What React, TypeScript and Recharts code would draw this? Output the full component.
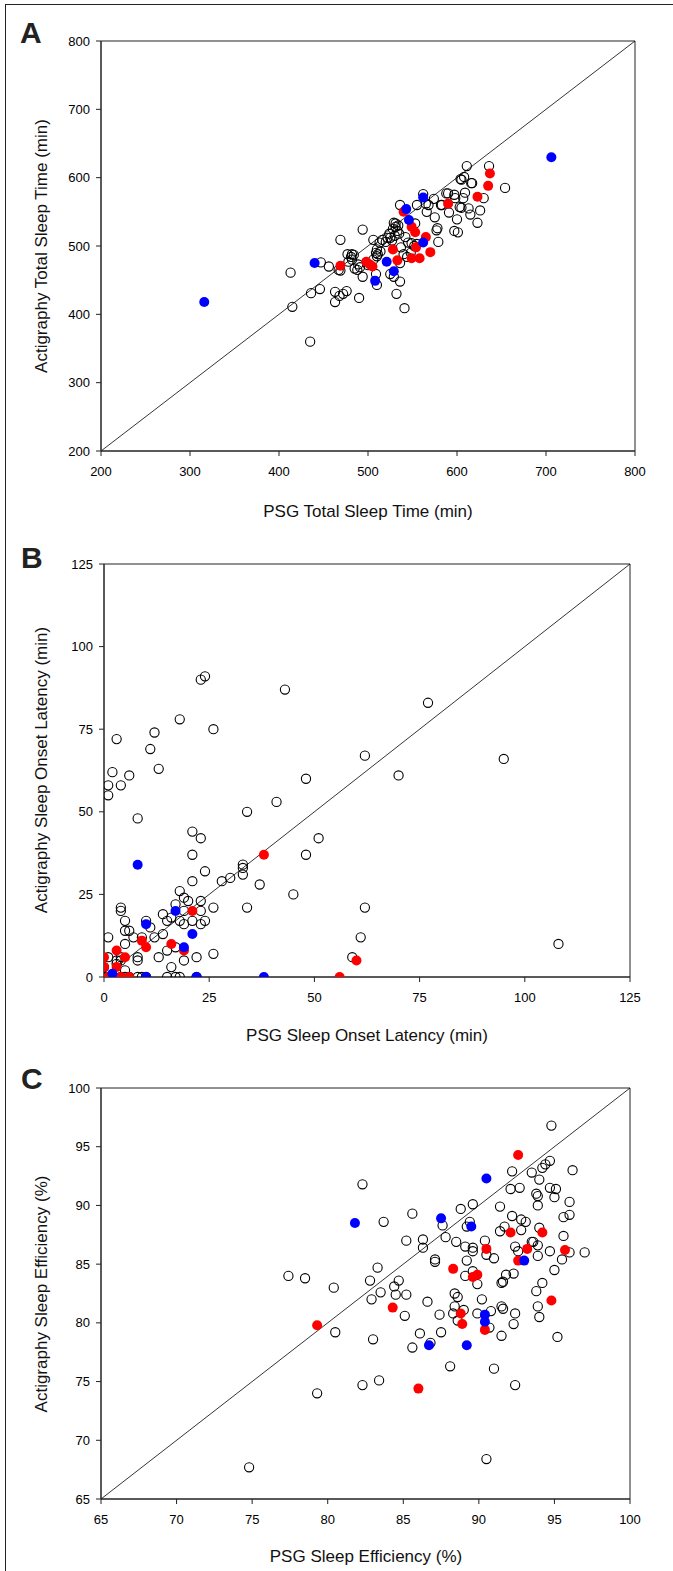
import React from 'react';
import {
  ReferenceArea,
  ReferenceLine,
  Scatter,
  ScatterChart,
  XAxis,
  YAxis,
} from 'recharts';

type Pair = [number, number];

// Panel A: total sleep time (PSG min, actigraphy min)
const tstOpen: Pair[] = [
  [435, 360], [413, 461], [415, 411], [436, 431], [446, 437], [447, 476], [456, 470], [469, 509],
  [469, 464], [463, 433], [463, 418], [468, 427], [472, 430], [476, 434], [477, 488], [482, 488],
  [482, 480], [485, 467], [489, 473], [488, 465], [490, 424], [494, 524], [494, 455], [500, 472],
  [506, 509], [509, 490], [510, 495], [511, 488], [513, 505], [516, 509], [510, 443], [509, 459],
  [522, 512], [524, 518], [529, 534], [531, 528], [534, 530], [535, 518], [536, 560], [537, 498],
  [540, 488], [529, 455], [536, 448], [532, 430], [541, 409], [542, 513], [545, 505], [549, 504],
  [552, 500], [553, 533], [555, 560], [562, 576], [568, 560], [566, 550], [574, 569], [575, 542],
  [578, 526], [579, 506], [582, 560], [590, 577], [591, 549], [597, 522], [601, 520], [600, 539],
  [598, 570], [604, 598], [608, 601], [611, 617], [609, 578], [607, 570], [605, 556], [615, 546],
  [617, 592], [626, 552], [623, 534], [630, 570], [636, 617], [654, 585], [527, 508], [530, 515],
  [533, 522], [528, 525], [531, 533], [525, 512], [520, 506], [506, 480], [510, 485], [514, 492],
  [478, 477], [481, 484], [484, 487], [491, 469], [467, 465], [525, 459], [536, 475], [544, 484],
  [548, 490], [555, 503], [577, 523], [583, 560], [603, 557], [613, 555], [597, 575], [616, 592],
  [605, 597], [565, 562], [588, 577],
];
const tstRed: Pair[] = [
  [469, 471], [498, 477], [502, 473], [505, 470], [528, 495], [533, 479], [540, 550], [549, 528],
  [553, 520], [549, 482], [554, 498], [558, 482], [565, 513], [570, 491], [590, 562], [623, 572],
  [635, 588], [637, 606],
];
const tstBlue: Pair[] = [
  [316, 418], [440, 475], [508, 449], [521, 477], [529, 463], [543, 554], [546, 538], [562, 571],
  [562, 505], [706, 630],
];

// Panel B: sleep onset latency (min)
const solOpen: Pair[] = [
  [23, 90], [24, 91], [43, 87], [77, 83], [18, 78], [26, 75], [12, 74], [3, 72], [11, 69], [62, 67],
  [95, 66], [13, 63], [2, 62], [6, 61], [70, 61], [48, 60], [1, 58], [4, 58], [1, 55], [41, 53],
  [34, 50], [8, 48], [21, 44], [23, 42], [51, 42], [21, 37], [48, 37], [33, 34], [33, 33], [33, 31],
  [24, 32], [28, 29], [30, 30], [21, 29], [37, 28], [45, 25], [34, 21], [62, 21], [18, 26], [19, 24],
  [20, 23], [23, 23], [17, 22], [26, 21], [4, 21], [4, 20], [19, 20], [23, 20], [14, 19], [15, 17],
  [16, 18], [18, 17], [21, 17], [24, 17], [5, 17], [10, 17], [11, 15], [19, 16], [23, 16], [14, 13],
  [12, 12], [1, 12], [6, 14], [5, 14], [7, 12], [9, 12], [61, 12], [108, 10], [5, 10], [17, 9],
  [15, 8], [26, 7], [13, 6], [22, 6], [8, 6], [8, 5], [19, 5], [59, 6], [1, 6], [16, 3], [3, 4],
  [4, 5], [5, 2], [0, 3], [3, 5], [4, 6], [0, 0], [1, 0], [2, 0], [4, 0], [6, 0], [8, 0], [9, 0],
  [15, 0], [17, 0], [18, 0], [22, 0], [10, 0], [5, 0],
];
const solRed: Pair[] = [
  [38, 37], [21, 20], [16, 10], [10, 9], [9, 11], [19, 8], [3, 8], [0, 6], [5, 6], [0, 3], [3, 3],
  [60, 5], [56, 0], [1, 0], [4, 0], [6, 0],
];
const solBlue: Pair[] = [
  [8, 34], [10, 16], [17, 20], [21, 13], [19, 9], [10, 0], [22, 0], [38, 0], [2, 1],
];

// Panel C: sleep efficiency (%)
const seOpen: Pair[] = [
  [94.8, 96.8], [92.2, 92.9], [92.7, 91.5], [92.1, 91.4], [93.5, 92.8], [94.2, 93.2], [94.4, 93.5],
  [94.7, 93.8], [94.0, 92.2], [96.2, 93.0], [94.7, 91.5], [95.1, 91.4], [95.0, 90.7], [93.8, 91.0],
  [93.9, 90.8], [93.9, 90.0], [96.0, 90.3], [96.0, 89.2], [95.6, 89.0], [91.4, 89.9], [89.6, 90.1],
  [88.8, 89.7], [92.2, 89.1], [92.8, 88.8], [93.1, 88.6], [91.7, 88.2], [91.4, 87.8], [92.8, 87.9],
  [94.0, 88.1], [87.6, 88.3], [89.2, 88.2], [89.4, 88.6], [87.8, 87.3], [88.5, 86.9], [89.1, 86.5],
  [89.6, 86.4], [89.6, 86.1], [90.4, 87.0], [93.5, 86.9], [93.6, 86.9], [93.9, 86.6], [93.9, 85.7],
  [92.4, 86.5], [92.6, 86.1], [95.6, 87.4], [94.7, 86.1], [96.0, 86.0], [97.0, 86.0], [95.5, 85.4],
  [95.0, 84.5], [90.5, 85.8], [91.0, 85.5], [89.2, 85.3], [87.1, 85.2], [87.1, 85.4], [86.3, 86.4],
  [86.3, 87.1], [85.2, 87.0], [85.6, 89.3], [83.7, 88.6], [83.3, 84.7], [82.8, 83.6], [84.7, 83.6],
  [84.4, 83.1], [84.5, 82.4], [85.2, 82.4], [83.5, 82.6], [82.9, 82.0], [80.4, 83.0], [78.5, 83.8],
  [77.4, 84.0], [82.3, 91.8], [86.6, 81.8], [85.1, 80.6], [87.4, 80.7], [88.4, 82.5], [88.6, 82.2],
  [88.4, 81.4], [88.3, 80.8], [88.6, 80.2], [89.1, 84.0], [89.6, 84.4], [89.9, 83.3], [89.0, 81.1],
  [90.2, 82.0], [89.9, 80.8], [90.8, 81.0], [90.7, 79.6], [91.5, 78.9], [91.5, 81.4], [91.6, 81.2],
  [91.5, 83.4], [91.6, 83.5], [91.8, 84.1], [92.3, 84.2], [92.4, 80.8], [92.3, 79.9], [93.8, 82.7],
  [94.2, 83.4], [93.9, 81.4], [94.0, 80.5], [95.2, 78.8], [91.0, 76.1], [88.1, 76.3], [92.4, 74.7],
  [90.5, 68.4], [74.8, 67.7], [79.3, 74.0], [82.3, 74.7], [83.4, 75.1], [83.0, 78.6], [85.6, 77.9],
  [86.1, 79.1], [86.8, 78.3], [87.5, 79.2], [80.5, 79.2],
];
const seRed: Pair[] = [
  [92.6, 94.3], [92.1, 87.7], [94.2, 87.7], [90.5, 86.3], [93.2, 86.3], [95.7, 86.2], [92.6, 85.3],
  [88.3, 84.6], [89.6, 83.9], [89.9, 84.1], [94.8, 81.9], [84.3, 81.3], [88.8, 80.8], [88.9, 79.9],
  [90.4, 79.4], [79.3, 79.8], [86.0, 74.4],
];
const seBlue: Pair[] = [
  [90.5, 92.3], [81.8, 88.5], [87.5, 88.9], [89.5, 88.2], [93.0, 85.3], [90.4, 80.7], [90.4, 80.1],
  [86.7, 78.1], [89.2, 78.1],
];

const tstTicks = [200, 300, 400, 500, 600, 700, 800];
const solTicks = [0, 25, 50, 75, 100, 125];
const seTicks = [65, 70, 75, 80, 85, 90, 95, 100];

const FONT = '"Liberation Sans", Arial, Helvetica, sans-serif';

const toPts = (arr: Pair[]) => arr.map(([x, y]) => ({ x, y }));

const OpenDot = (props: any) => (
  <circle cx={props.cx} cy={props.cy} r={4.6} fill="none" stroke="#000" strokeWidth={1.1} />
);
const RedDot = (props: any) => <circle cx={props.cx} cy={props.cy} r={5} fill="#ff0000" />;
const BlueDot = (props: any) => <circle cx={props.cx} cy={props.cy} r={5} fill="#0000ff" />;

interface PanelProps {
  top: number;
  height: number;
  margin: { top: number; right: number; bottom: number; left: number };
  ticks: number[];
  open: Pair[];
  red: Pair[];
  blue: Pair[];
}

const Panel = ({ top, height, margin, ticks, open, red, blue }: PanelProps) => {
  const lo = ticks[0];
  const hi = ticks[ticks.length - 1];
  const tickStyle = { fontSize: 13, fill: '#000', fontFamily: FONT };
  return (
    <div style={{ position: 'absolute', left: 0, top }}>
      <ScatterChart width={673} height={height} margin={margin}>
        <XAxis
          type="number"
          dataKey="x"
          domain={[lo, hi]}
          ticks={ticks}
          allowDataOverflow
          height={40}
          tickSize={5}
          tickMargin={11}
          tick={tickStyle}
          stroke="#222"
        />
        <YAxis
          type="number"
          dataKey="y"
          domain={[lo, hi]}
          ticks={ticks}
          allowDataOverflow
          width={60}
          tickSize={5}
          tickMargin={6}
          tick={tickStyle}
          stroke="#222"
        />
        <ReferenceArea x1={lo} x2={hi} y1={lo} y2={hi} fill="none" stroke="#222" strokeWidth={1} />
        <ReferenceLine
          segment={[{ x: lo, y: lo }, { x: hi, y: hi }]}
          stroke="#000"
          strokeWidth={0.8}
        />
        <Scatter data={toPts(open)} shape={OpenDot} isAnimationActive={false} />
        <Scatter data={toPts(red)} shape={RedDot} isAnimationActive={false} />
        <Scatter data={toPts(blue)} shape={BlueDot} isAnimationActive={false} />
      </ScatterChart>
    </div>
  );
};

const textBase: React.CSSProperties = {
  position: 'absolute',
  fontFamily: FONT,
  fontSize: 17,
  color: '#111',
  whiteSpace: 'nowrap',
  lineHeight: 1,
};

const XTitle = ({ text, cx, cy }: { text: string; cx: number; cy: number }) => (
  <div style={{ ...textBase, left: cx, top: cy, transform: 'translate(-50%, -50%)' }}>{text}</div>
);
const YTitle = ({ text, cx, cy }: { text: string; cx: number; cy: number }) => (
  <div
    style={{ ...textBase, left: cx, top: cy, transform: 'translate(-50%, -50%) rotate(-90deg)' }}
  >
    {text}
  </div>
);
const Letter = ({ text, x, y }: { text: string; x: number; y: number }) => (
  <div
    style={{
      position: 'absolute',
      left: x,
      top: y,
      fontFamily: '"Liberation Sans Narrow", "Liberation Sans", Arial, sans-serif',
      fontWeight: 'bold',
      fontSize: 30,
      lineHeight: 1,
      color: '#222',
    }}
  >
    {text}
  </div>
);

export default function App() {
  return (
    <div
      style={{
        position: 'absolute',
        left: 0,
        top: 0,
        width: 673,
        height: 1571,
        background: '#fff',
        overflow: 'hidden',
      }}
    >
      <div
        style={{
          position: 'absolute',
          left: 5,
          top: 4,
          width: 700,
          height: 1600,
          borderLeft: '1.5px solid #222',
          borderTop: '1.5px solid #222',
        }}
      />
      <Panel
        top={0}
        height={530}
        margin={{ top: 41, right: 38, bottom: 39, left: 41 }}
        ticks={tstTicks}
        open={tstOpen}
        red={tstRed}
        blue={tstBlue}
      />
      <Panel
        top={530}
        height={530}
        margin={{ top: 34, right: 43, bottom: 43, left: 44 }}
        ticks={solTicks}
        open={solOpen}
        red={solRed}
        blue={solBlue}
      />
      <Panel
        top={1060}
        height={511}
        margin={{ top: 28, right: 43, bottom: 32, left: 41 }}
        ticks={seTicks}
        open={seOpen}
        red={seRed}
        blue={seBlue}
      />
      <Letter text="A" x={20} y={18} />
      <Letter text="B" x={21} y={543} />
      <Letter text="C" x={21} y={1064} />
      <XTitle text="PSG Total Sleep Time (min)" cx={368} cy={511} />
      <XTitle text="PSG Sleep Onset Latency (min)" cx={367} cy={1035} />
      <XTitle text="PSG Sleep Efficiency (%)" cx={366} cy={1556} />
      <YTitle text="Actigraphy Total Sleep Time (min)" cx={41} cy={246} />
      <YTitle text="Actigraphy Sleep Onset Latency (min)" cx={41} cy={770} />
      <YTitle text="Actigraphy Sleep Efficiency (%)" cx={41} cy={1294} />
    </div>
  );
}
